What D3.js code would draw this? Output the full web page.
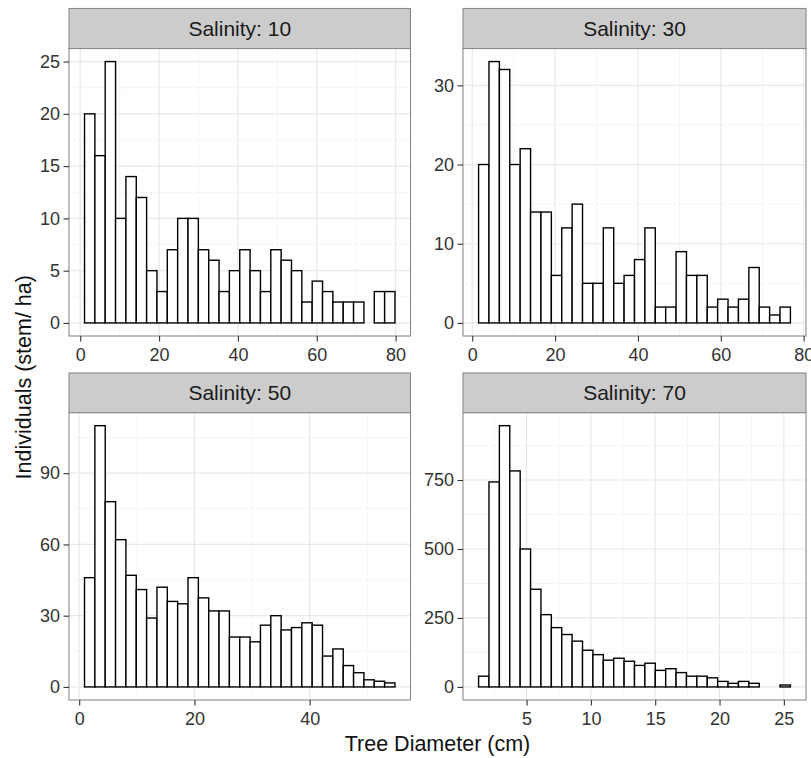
<!DOCTYPE html>
<html>
<head>
<meta charset="utf-8">
<script src="https://cdn.jsdelivr.net/npm/d3@7"></script>
<style>
  html, body { margin: 0; padding: 0; background: #ffffff; }
  svg { display: block; }
  text { font-family: "Liberation Sans", Arial, sans-serif; }
</style>
</head>
<body>
<svg id="chart" width="811" height="758"></svg>
<script>
// ---------------- data ----------------
const panelLabels = ["Salinity: 10", "Salinity: 30", "Salinity: 50", "Salinity: 70"];
// first bin left edge (cm) and bin width (cm) for each panel
const binStart = [1.09, 1.53, 0.925, 1.27];
const binWidth = [2.625, 2.509, 1.796, 0.808];

const counts10 = [20, 16, 25, 10, 14, 12, 5, 3, 7, 10, 10, 7, 6, 3, 5, 7, 5, 3, 7, 6, 5, 2, 4, 3, 2, 2, 2, 0, 3, 3];
const counts30 = [20, 33, 32, 20, 22, 14, 14, 6, 12, 15, 5, 5, 12, 5, 6, 8, 12, 2, 2, 9, 6, 6, 2, 3, 2, 3, 7, 2, 1, 2];
const counts50 = [46, 110, 78, 62, 47, 41, 29, 42, 36, 35, 46, 37.5, 32, 32, 21, 21, 19, 26, 30, 24, 25, 27, 26, 13, 16, 9, 6, 3, 2.4, 1.7];
const counts70 = [39, 743, 947, 783, 500, 354, 262, 215, 190, 166, 133, 117, 97, 104, 93, 78, 86, 60, 66, 52, 39, 39, 33, 20, 13, 20, 13, 0, 0, 7];

const yTicks10 = [0, 5, 10, 15, 20, 25];
const yTicks30 = [0, 10, 20, 30];
const yTicks50 = [0, 30, 60, 90];
const yTicks70 = [0, 250, 500, 750];

const xTicks10 = [0, 20, 40, 60, 80];
const xTicks30 = [0, 20, 40, 60, 80];
const xTicks50 = [0, 20, 40];
const xTicks70 = [5, 10, 15, 20, 25];

const xTitle = "Tree Diameter (cm)";
const yTitle = "Individuals (stem/ ha)";

// ---------------- layout ----------------
const colX = [[69, 410.5], [463, 806]];
const rowY = [[8.5, 48.5, 336], [373, 412.6, 700]]; // strip top, panel top, panel bottom

const countsAll = [counts10, counts30, counts50, counts70];
const yTicksAll = [yTicks10, yTicks30, yTicks50, yTicks70];
const xTicksAll = [xTicks10, xTicks30, xTicks50, xTicks70];

const svg = d3.select("#chart");

function expand(lo, hi) {
  const d = (hi - lo) * 0.05;
  return [lo - d, hi + d];
}
function minorBreaks(major, domain) {
  const step = major[1] - major[0];
  const res = [];
  for (let v = major[0] - step / 2; v <= domain[1]; v += step) {
    if (v >= domain[0] && v <= domain[1]) res.push(v);
  }
  return res;
}

countsAll.forEach((counts, i) => {
  const col = i % 2, row = Math.floor(i / 2);
  const [x0, x1] = colX[col];
  const [sTop, pTop, pBot] = rowY[row];

  const bins = counts.map((c, k) => ({
    lo: binStart[i] + k * binWidth[i],
    hi: binStart[i] + (k + 1) * binWidth[i],
    n: c
  }));
  const xDom = expand(bins[0].lo, bins[bins.length - 1].hi);
  const yDom = expand(0, d3.max(counts));

  const x = d3.scaleLinear().domain(xDom).range([x0, x1]);
  const y = d3.scaleLinear().domain(yDom).range([pBot, pTop]);

  const g = svg.append("g");

  // panel background
  g.append("rect").attr("x", x0).attr("y", pTop).attr("width", x1 - x0).attr("height", pBot - pTop)
    .attr("fill", "#ffffff");

  // minor grid
  const xMinor = minorBreaks(xTicksAll[i], xDom);
  const yMinor = minorBreaks(yTicksAll[i], yDom);
  g.selectAll(".xminor").data(xMinor).join("line")
    .attr("x1", d => x(d)).attr("x2", d => x(d)).attr("y1", pTop).attr("y2", pBot)
    .attr("stroke", "#f3f3f3").attr("stroke-width", 0.8);
  g.selectAll(".yminor").data(yMinor).join("line")
    .attr("y1", d => y(d)).attr("y2", d => y(d)).attr("x1", x0).attr("x2", x1)
    .attr("stroke", "#f3f3f3").attr("stroke-width", 0.8);
  // major grid
  g.selectAll(".xmajor").data(xTicksAll[i]).join("line")
    .attr("x1", d => x(d)).attr("x2", d => x(d)).attr("y1", pTop).attr("y2", pBot)
    .attr("stroke", "#e8e8e8").attr("stroke-width", 1.2);
  g.selectAll(".ymajor").data(yTicksAll[i]).join("line")
    .attr("y1", d => y(d)).attr("y2", d => y(d)).attr("x1", x0).attr("x2", x1)
    .attr("stroke", "#e8e8e8").attr("stroke-width", 1.2);

  // bars
  g.selectAll(".bar").data(bins).join("rect")
    .attr("x", d => x(d.lo))
    .attr("width", d => x(d.hi) - x(d.lo))
    .attr("y", d => y(d.n))
    .attr("height", d => y(0) - y(d.n))
    .attr("fill", "#ffffff")
    .attr("stroke", "#000000")
    .attr("stroke-width", 1.4);

  // panel border
  g.append("rect").attr("x", x0).attr("y", pTop).attr("width", x1 - x0).attr("height", pBot - pTop)
    .attr("fill", "none").attr("stroke", "#8a8a8a").attr("stroke-width", 1.1);

  // strip
  g.append("rect").attr("x", x0).attr("y", sTop).attr("width", x1 - x0).attr("height", pTop - sTop)
    .attr("fill", "#cccccc").attr("stroke", "#8a8a8a").attr("stroke-width", 1.1);
  g.append("text")
    .attr("x", (x0 + x1) / 2).attr("y", (sTop + pTop) / 2 + 7.5)
    .attr("text-anchor", "middle").attr("font-size", 21).attr("fill", "#1a1a1a")
    .text(panelLabels[i]);

  // axes
  const ax = g.append("g").attr("transform", `translate(0,${pBot})`)
    .call(d3.axisBottom(x).tickValues(xTicksAll[i]).tickFormat(d3.format("d")).tickSize(5.5).tickPadding(6.5));
  const ay = g.append("g").attr("transform", `translate(${x0},0)`)
    .call(d3.axisLeft(y).tickValues(yTicksAll[i]).tickFormat(d3.format("d")).tickSize(5.5).tickPadding(3.5));
  [ax, ay].forEach(a => {
    a.select(".domain").remove();
    a.selectAll(".tick line").attr("stroke", "#333333").attr("stroke-width", 1.1);
    a.selectAll(".tick text").attr("font-size", 18).attr("fill", "#333333")
      .attr("font-family", "'Liberation Sans', Arial, sans-serif");
  });
});

// axis titles
svg.append("text")
  .attr("x", (colX[0][0] + colX[1][1]) / 2).attr("y", 751)
  .attr("text-anchor", "middle").attr("font-size", 21.5).attr("fill", "#111111")
  .text(xTitle);
svg.append("text")
  .attr("transform", `translate(31,${(rowY[0][1] + rowY[1][2]) / 2 + 3}) rotate(-90)`)
  .attr("text-anchor", "middle").attr("font-size", 21.5).attr("fill", "#111111")
  .text(yTitle);
</script>
</body>
</html>
